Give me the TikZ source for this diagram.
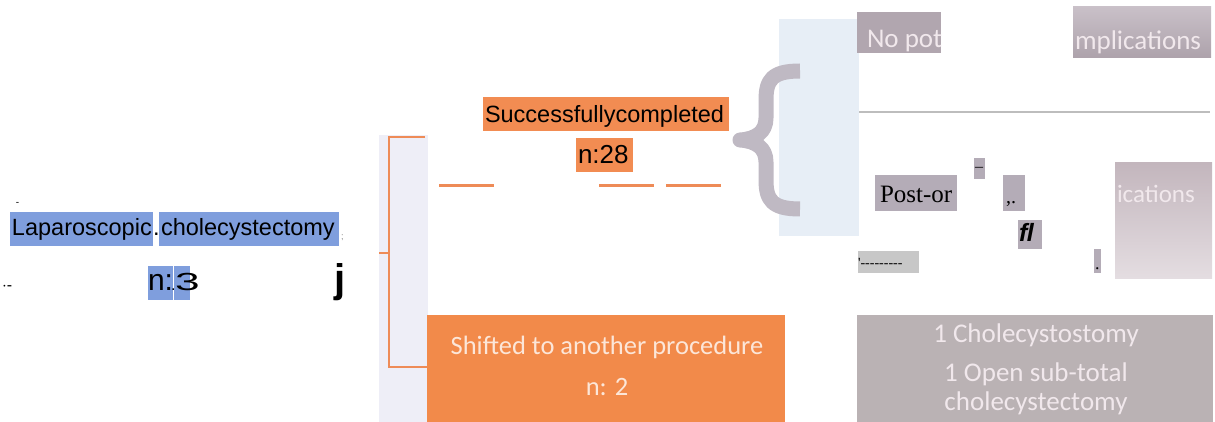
\documentclass[tikz,border=0pt]{standalone}
\usepackage{fontspec}
\setmainfont{Liberation Sans}
\newfontfamily\calib{Carlito}
\newfontfamily\tnr{Liberation Serif}
\definecolor{hlblue}{HTML}{7F9EDD}
\definecolor{hlorange}{HTML}{F28C52}
\definecolor{boxorange}{HTML}{F28A4A}
\definecolor{lineorange}{HTML}{EE8B57}
\definecolor{lavender}{HTML}{EEEEF7}
\definecolor{paleblue}{HTML}{E7EEF6}
\definecolor{bracegray}{HTML}{BFB9C3}
\definecolor{scangray}{HTML}{B1A6AF}
\definecolor{ocrgray}{HTML}{B4ACB7}
\definecolor{dashgray}{HTML}{C7C7C7}
\definecolor{bottomgray}{HTML}{BAB2B4}
\definecolor{rulegray}{HTML}{BDBDBD}
\definecolor{paletext}{HTML}{F1E8EC}
\definecolor{peachtext}{HTML}{FCE6D8}
\definecolor{scantop}{HTML}{C9C0C8}
\definecolor{scanbot}{HTML}{ADA2AB}
\definecolor{ictop}{HTML}{C3B6BD}
\definecolor{icbot}{HTML}{E4DDE1}
\tikzset{
  fillbox/.style={draw=none, inner sep=0pt, outer sep=0pt, anchor=north west},
  txt/.style={inner sep=0pt, outer sep=0pt, anchor=base west},
  ctxt/.style={inner sep=0pt, outer sep=0pt, anchor=base},
  orline/.style={draw=lineorange, line width=3pt},
}
\begin{document}
\begin{tikzpicture}[x=1pt,y=-1pt]
\useasboundingbox (0,0) rectangle (1215,422);
% ---------- left: laparoscopic cholecystectomy ----------
\node[fillbox, fill=hlblue, minimum width=143pt, minimum height=34pt] (lapbox) at (10,212) {};
\node[fillbox, fill=hlblue, minimum width=180pt, minimum height=34pt] (cholbox) at (159,212) {};
\node[txt, font=\fontsize{23.5}{28}\selectfont] (laptxt) at (12,236) {Laparoscopic};
\node[txt, font=\fontsize{23.5}{28}\selectfont] (dot1) at (153,236) {.};
\node[txt, font=\fontsize{23.5}{28}\selectfont] (choltxt) at (161,236) {cholecystectomy};
\node[txt, font=\fontsize{9}{10}\selectfont, text=gray] (semi) at (341,240) {;};
\node[txt, font=\fontsize{10}{12}\selectfont] (tick1) at (16,206) {-};
\node[fillbox, fill=hlblue, minimum width=25pt, minimum height=34pt] (nbox) at (148,266) {};
\node[fillbox, fill=hlblue, minimum width=16pt, minimum height=34pt] (threebox) at (174,266) {};
\node[txt, font=\fontsize{30}{34}\selectfont] (ntxt) at (148,290) {n:};
\node[txt, font=\fontsize{16}{18}\selectfont] (dot2) at (171,290) {.};
\node[txt, font=\fontsize{26}{30}\selectfont] (three) at (175,290) {\scalebox{1.7}[0.95]{3}};
\node[txt, font=\fontsize{16}{18}\selectfont] (lefttick) at (2,290) {$\cdot$-};
\node[txt, font=\bfseries\fontsize{40}{44}\selectfont] (jglyph) at (334,292) {j};
% ---------- bracket panel ----------
\node[fillbox, fill=lavender, minimum width=49pt, minimum height=287pt] (panel) at (379,135) {};
% ---------- shifted box ----------
\node[fillbox, fill=boxorange, minimum width=358pt, minimum height=107pt] (shiftbox) at (427,315) {};
\node[ctxt, text=peachtext, font=\calib\fontsize{26.5}{30}\selectfont] (shifttxt) at (607,354) {Shifted to another procedure};
\node[ctxt, text=peachtext, font=\calib\fontsize{26.5}{30}\selectfont] (shiftn) at (607,395) {n: 2};
\coordinate (brTop) at (425,137);
\coordinate (brTopL) at (389,137);
\coordinate (brBotL) at (389,367);
\coordinate (brMid) at (379,253);
\coordinate (brMidR) at (389,253);
\draw[orline, line width=2.6pt] (brTop) -- (brTopL) -- (brBotL) -- (brBotL -| shiftbox.west);
\draw[orline, line width=2.6pt] (brMid) -- (brMidR);
% ---------- successfully completed ----------
\node[fillbox, fill=hlorange, minimum width=246pt, minimum height=34pt] (succbox) at (483,97) {};
\node[fillbox, fill=hlorange, minimum width=57pt, minimum height=34pt] (n28box) at (576,138) {};
\node[txt, font=\fontsize{23.5}{28}\selectfont] (succtxt) at (485,123) {Successfullycompleted};
\node[txt, font=\fontsize{26}{30}\selectfont] (n28txt) at (578,164) {n:28};
\coordinate (l1a) at (439,186); \coordinate (l1b) at (494,186);
\coordinate (l2a) at (599,186); \coordinate (l2b) at (654,186);
\coordinate (l3a) at (666,186); \coordinate (l3b) at (721,186);
\draw[orline] (l1a) -- (l1b);
\draw[orline] (l2a) -- (l2b);
\draw[orline] (l3a) -- (l3b);
% ---------- brace and pale rectangle ----------
\node[fillbox, fill=paleblue, minimum width=80pt, minimum height=217pt] (palebox) at (779,19) {};
\draw[bracegray, line width=15pt, line join=round]
  (800,71) .. controls (772,71) and (766,80) .. (766,100) -- (766,118)
  .. controls (766,132) and (756,139) .. (740,140)
  .. controls (756,141) and (766,148) .. (766,162) -- (766,180)
  .. controls (766,200) and (772,209) .. (800,209);
% ---------- top right ----------
\node[fillbox, fill=scangray, minimum width=84pt, minimum height=41pt] (nopotbox) at (857,12) {};
\node[txt, text=paletext, font=\calib\fontsize{27}{30}\selectfont] (nopot) at (867,48) {No pot};
\node[fillbox, top color=scantop, bottom color=scanbot, minimum width=138pt, minimum height=51pt] (mplbox) at (1073,7) {};
\node[txt, text=paletext, font=\calib\fontsize{27}{30}\selectfont] (mpl) at (1075,50) {mplications};
\coordinate (ruleL) at (859,112);
\coordinate (ruleR) at (1210,112);
\draw[rulegray, line width=1.5pt] (ruleL) -- (ruleR);
% ---------- middle right ----------
\node[fillbox, fill=ocrgray, minimum width=82pt, minimum height=36pt] (postbox) at (875,175) {};
\node[txt, font=\tnr\fontsize{25}{28}\selectfont] (posttxt) at (880,203) {Post-or};
\node[fillbox, fill=ocrgray, minimum width=11pt, minimum height=21pt] (dashbox) at (974,158) {};
\node[txt, font=\tnr\fontsize{16}{18}\selectfont] (dashtxt) at (975,172) {–};
\node[fillbox, fill=ocrgray, minimum width=22pt, minimum height=36pt] (commabox) at (1003,175) {};
\node[txt, font=\tnr\fontsize{20}{24}\selectfont] (commatxt) at (1006,204) {,.};
\node[fillbox, fill=ocrgray, minimum width=24pt, minimum height=29pt] (flbox) at (1018,220) {};
\node[txt, font=\bfseries\itshape\fontsize{25}{28}\selectfont] (fltxt) at (1019,241) {f\kern-0.5pt l};
\node[fillbox, fill=dashgray, minimum width=61pt, minimum height=22pt] (dashesbox) at (858,251) {};
\node[txt, font=\tnr\fontsize{14}{16}\selectfont] (dashestxt) at (858,267) {'-{}-{}-{}-{}-{}-{}-{}-{}-};
\node[fillbox, fill=ocrgray, minimum width=7pt, minimum height=24pt] (dotbox) at (1094,249) {};
\node[txt, font=\tnr\fontsize{18}{20}\selectfont] (dottxt) at (1095,269) {.};
\node[fillbox, top color=ictop, bottom color=icbot, minimum width=97pt, minimum height=115pt] (icbox) at (1115,163) {};
\node[txt, text=paletext, font=\calib\fontsize{25}{28}\selectfont] (ictxt) at (1117,203) {ications};
% ---------- bottom right ----------
\node[fillbox, fill=bottomgray, minimum width=356pt, minimum height=107pt] (procbox) at (857,315) {};
\node[ctxt, text=paletext, font=\calib\fontsize{27}{30}\selectfont] (proc1) at (1036,342) {1 Cholecystostomy};
\node[ctxt, text=paletext, font=\calib\fontsize{27}{30}\selectfont] (proc2) at (1036,381) {1 Open sub-total};
\node[ctxt, text=paletext, font=\calib\fontsize{27}{30}\selectfont] (proc3) at (1036,410) {cholecystectomy};
\end{tikzpicture}
\end{document}
